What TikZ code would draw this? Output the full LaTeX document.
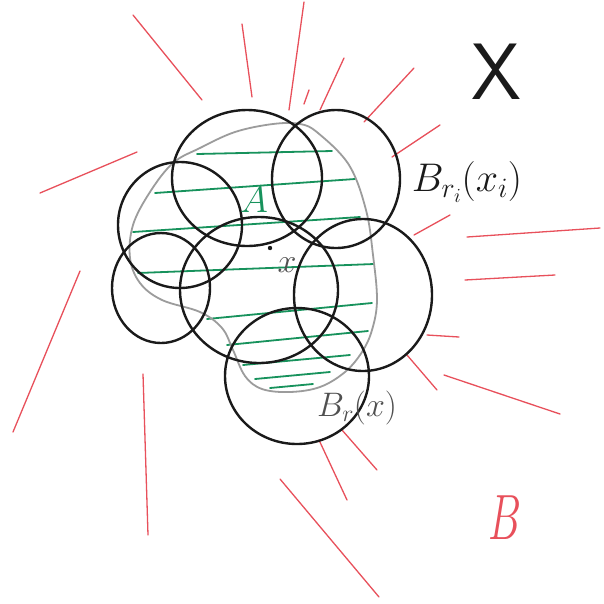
\RequirePackage{fix-cm}
\documentclass[tikz,border=0pt]{standalone}
\usepackage{xcolor}
\definecolor{penBlack}  {HTML}{1A1A1A}
\definecolor{penRed}    {HTML}{E8505B}
\definecolor{penGreen}  {HTML}{17925C}
\definecolor{penGray}   {HTML}{9C9C9C}
\definecolor{labelGray} {HTML}{505050}
\tikzset{
    ball/.style={draw=penBlack, line width=2.4pt},
    ray/.style={draw=penRed, line width=1.3pt, line cap=round},
    hatch/.style={draw=penGreen, line width=1.8pt, line cap=round},
    rim/.style={draw=penGray, line width=1.8pt},
    lbl/.style={inner sep=0pt},
    bigfont/.style={font=\fontsize{#1}{#1}\selectfont},
}

\begin{document}
\begin{tikzpicture}[x=1pt, y=-1pt]
    \fill[white] (0,0) rectangle (604,603);
    \useasboundingbox (0,0) rectangle (604,603);

    % the set B all around
    \foreach \xa/\ya/\xb/\yb in {133/15/202/100, 242/24/252/97, 304/2/289/110,
        309/90/304/104, 344/58/320/110, 414/68/364/122, 440/125/392/157,
        137/152/40/193, 450/215/414/235, 467/237/600/228, 465/280/555/275,
        427/335/459/337, 407/355/437/390, 444/375/560/414, 342/430/377/470,
        319/440/347/500, 280/479/379/597, 143/374/148/535, 80/271/13/432}
        \draw[ray] (\xa,\ya) -- (\xb,\yb);

    % hatching of A
    \foreach \xa/\ya/\xb/\yb in {197/154/332/151, 155/193/355/179,
        133/232/360/217, 138/273/374/264, 207/319/372/303, 227/345/368/331,
        243/365/350/355, 255/379/330/372, 270/388/313/384}
        \draw[hatch] (\xa,\ya) -- (\xb,\yb);

    % outline of A
    \draw[rim] plot[smooth cycle, tension=0.6] coordinates {
        (273,124) (300,124) (318,133) (349,165) (366,210) (373,255)
        (377,300) (372,330) (362,352) (345,372) (320,387) (290,392)
        (262,389) (245,376) (233,350) (222,328) (200,312) (162,300)
        (140,283) (130,258) (133,225) (150,192) (173,163) (200,148)
        (235,132)};

    % the covering balls
    \draw[ball] (247,178) ellipse [x radius=75, y radius=68];
    \draw[ball] (336,179) ellipse [x radius=64, y radius=69];
    \draw[ball] (180,225) ellipse [x radius=62, y radius=63];
    \draw[ball] (161,288) ellipse [x radius=49, y radius=55];
    \draw[ball] (259,290) ellipse [x radius=79, y radius=73];
    \draw[ball] (363,295) ellipse [x radius=69, y radius=76];
    \draw[ball] (297,376) ellipse [x radius=72, y radius=68];

    \coordinate (pt) at (270,248);
    \fill[penBlack] (pt) circle [radius=2.2];

    \node[lbl, bigfont=38, text=penGreen] (setA) at (254,200) {$A$};
    \node[lbl, bigfont=34, text=labelGray] (ptname) at (287,265) {$x$};
    \node[lbl, bigfont=40, text=penBlack] (ballI) at (467,182) {$B_{r_i}(x_i)$};
    \node[lbl, bigfont=34, text=labelGray] (ballX) at (357,408) {$B_r(x)$};
    \node[lbl, bigfont=80, text=penBlack] (space) at (496,72) {\sffamily X};
    \node[lbl, bigfont=64, text=penRed, xscale=0.65] (setB) at (505,518) {$B$};
\end{tikzpicture}
\end{document}
